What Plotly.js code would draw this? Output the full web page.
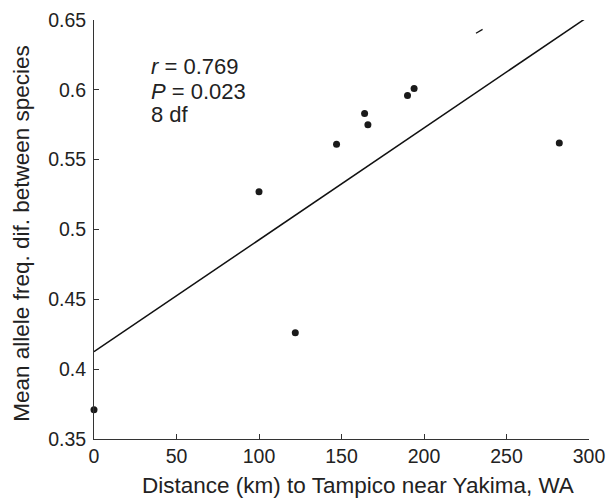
<!DOCTYPE html>
<html>
<head>
<meta charset="utf-8">
<script src="https://cdn.plot.ly/plotly-3.0.1.min.js"></script>
<style>html,body{margin:0;padding:0;background:#fff;}#chart{width:608px;height:499px;}</style>
</head>
<body>
<div id="chart"></div>
<script>
// Observed populations
const distanceKm = [0, 100, 122, 147, 164, 166, 190, 194, 282];
const alleleDiff = [0.371, 0.527, 0.426, 0.561, 0.583, 0.575, 0.596, 0.601, 0.562];
// Regression line endpoints
const fitX = [0, 299];
const fitY = [0.4125, 0.652];
// Small stray segment in the figure
const strayX = [231.5, 235.5];
const strayY = [0.6405, 0.6433];
// Axis ticks
const xTicks = [0, 50, 100, 150, 200, 250, 300];
const yTicks = [0.35, 0.4, 0.45, 0.5, 0.55, 0.6, 0.65];
const yTickText = ['0.35', '0.4', '0.45', '0.5', '0.55', '0.6', '0.65'];
// Statistics text
const statLines = ['<i>r</i> = 0.769', '<i>P</i> = 0.023', '8 df'];
const statY = [0.617, 0.599, 0.582];
const xTitle = 'Distance (km) to Tampico near Yakima, WA';
const yTitle = 'Mean allele freq. dif. between species';

const font = 'Liberation Sans, Arial, sans-serif';
const ink = '#222';

const traces = [
  {x: fitX, y: fitY, mode: 'lines', line: {color: '#111', width: 1.5}, hoverinfo: 'skip', cliponaxis: false},
  {x: strayX, y: strayY, mode: 'lines', line: {color: '#111', width: 1.2}, hoverinfo: 'skip', cliponaxis: false},
  {x: distanceKm, y: alleleDiff, mode: 'markers', marker: {color: '#1a1a1a', size: 7}, cliponaxis: false}
];

const annotations = statLines.map((t, i) => ({
  x: 33.5, y: statY[i], xref: 'x', yref: 'y', text: t, showarrow: false,
  xanchor: 'left', yanchor: 'middle', font: {family: font, size: 22, color: ink}
}));
annotations.push({
  x: 160, y: 0, xref: 'x', yref: 'paper', text: xTitle, showarrow: false,
  xanchor: 'center', yanchor: 'middle', yshift: -46, font: {family: font, size: 22.5, color: ink}
});
annotations.push({
  x: 0, y: 0.49, xref: 'paper', yref: 'paper', text: yTitle, showarrow: false, textangle: -90,
  xanchor: 'center', yanchor: 'middle', xshift: -72, font: {family: font, size: 22.5, color: ink}
});

const layout = {
  width: 608, height: 499,
  margin: {l: 94, r: 19, t: 20, b: 60},
  paper_bgcolor: '#fff', plot_bgcolor: '#fff',
  showlegend: false,
  font: {family: font, color: ink, size: 19},
  xaxis: {
    range: [0, 300], tickvals: xTicks, ticks: 'inside', ticklen: 5, tickcolor: '#333',
    showline: true, linecolor: '#333', linewidth: 1, showgrid: false, zeroline: false,
    tickfont: {family: font, size: 19.5, color: ink}
  },
  yaxis: {
    range: [0.35, 0.65], tickvals: yTicks, ticktext: yTickText, ticks: 'inside', ticklen: 5, tickcolor: '#333',
    showline: true, linecolor: '#333', linewidth: 1, showgrid: false, zeroline: false,
    ticklabelstandoff: 3,
    tickfont: {family: font, size: 19.5, color: ink}
  },
  annotations: annotations
};

Plotly.newPlot('chart', traces, layout, {staticPlot: true, displayModeBar: false});
</script>
</body>
</html>
